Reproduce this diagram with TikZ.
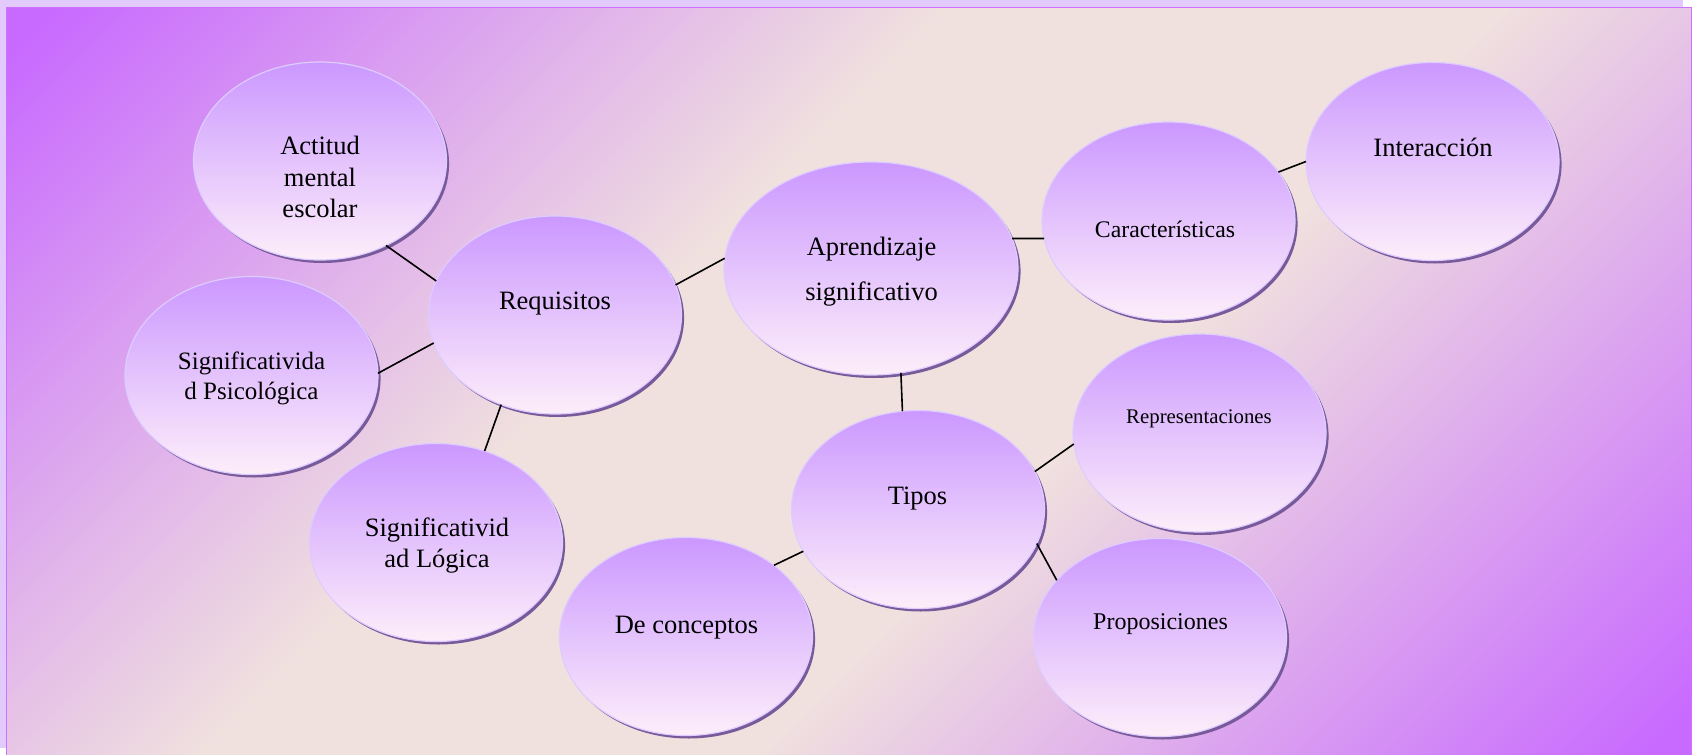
\documentclass[tikz,border=0pt]{standalone}
\usepackage{fontspec}
\setmainfont{Liberation Serif}
\usetikzlibrary{shapes.geometric, shadows}

\definecolor{bgpurple}{RGB}{200,106,255}
\definecolor{bgbeige}{RGB}{240,225,222}
\definecolor{framelilac}{RGB}{226,202,253}
\definecolor{frameline}{RGB}{208,112,255}
\definecolor{bubbletop}{RGB}{203,152,255}
\definecolor{bubblebot}{RGB}{253,238,250}
\definecolor{bubblerim}{RGB}{222,204,255}
\definecolor{bubbleshade}{RGB}{120,90,155}

\pgfdeclareverticalshading{backdrop}{100bp}{color(0bp)=(bgpurple); color(16bp)=(bgpurple); color(42bp)=(bgbeige); color(58bp)=(bgbeige); color(84bp)=(bgpurple); color(100bp)=(bgpurple)}

\begin{document}
\begin{tikzpicture}[x=0.5pt, y=-0.5pt,
    bubble/.style={ellipse, draw=bubblerim, line width=0.6pt, top color=bubbletop, bottom color=bubblebot,
        minimum width=126.5pt, minimum height=99pt, inner sep=0pt, outer sep=0pt,
        drop shadow={shadow xshift=1.3pt, shadow yshift=-1.5pt, fill=bubbleshade, opacity=1}},
    bigbubble/.style={bubble, minimum width=147pt, minimum height=106.5pt},
    txt/.style={align=center, inner sep=0pt, font=\fontsize{13.25}{16}\selectfont},
    link/.style={line width=0.8pt, black}]
    \useasboundingbox (0,0) rectangle (1693,755);

    %Background
    \fill[white] (0,0) rectangle (1693,755);
    \fill[framelilac] (0,0) rectangle (1683,7);
    \fill[framelilac] (0,0) rectangle (6,748);
    \shade[shading=backdrop, shading angle=45, draw=frameline, line width=0.8pt] (6.5,7.5) rectangle (1691.5,760);

    %Nodes
    \node[bubble] at (320, 161) (act) {};
    \node[bubble] at (555, 315) (req) {};
    \node[bubble] at (251.5, 375.5) (psi) {};
    \node[bubble] at (436, 542.5) (log) {};
    \node[bigbubble] at (871, 268.5) (apr) {};
    \node[bubble] at (1168.5, 221) (car) {};
    \node[bubble] at (1432.5, 161.5) (int) {};
    \node[bubble] at (918, 509.5) (tip) {};
    \node[bubble] at (1199.5, 433) (rep) {};
    \node[bubble] at (1160, 637.5) (pro) {};
    \node[bubble] at (686, 636.5) (con) {};

    %Texts
    \node[txt, font=\fontsize{13.25}{15.7}\selectfont] at (320, 177) (act-t) {Actitud\\mental\\escolar};
    \node[txt] at (555, 304) (req-t) {Requisitos};
    \node[txt, font=\fontsize{12.5}{15}\selectfont] at (251.5, 378) (psi-t) {Significativida\\d Psicológica};
    \node[txt, font=\fontsize{13.25}{15.5}\selectfont] at (437, 546) (log-t) {Significativid\\ad Lógica};
    \node[txt, font=\fontsize{13.25}{22.5}\selectfont] at (871.5, 272) (apr-t) {Aprendizaje\\significativo};
    \node[txt, font=\fontsize{11.9}{14}\selectfont] at (1165, 229) (car-t) {Características};
    \node[txt] at (1433, 147) (int-t) {Interacción};
    \node[txt] at (917.5, 498.5) (tip-t) {Tipos};
    \node[txt, font=\fontsize{10.4}{12}\selectfont] at (1199, 418.5) (rep-t) {Representaciones};
    \node[txt, font=\fontsize{12}{14}\selectfont] at (1160.5, 624) (pro-t) {Proposiciones};
    \node[txt] at (686.5, 627.5) (con-t) {De conceptos};

    %Lines
    \draw[link] (act.-52) -- (req.164);
    \draw[link] (psi.1) -- (req.193);
    \draw[link] (log.62) -- (req.239);
    \draw[link] (req.14) -- (apr.176);
    \draw[link] (apr.12) -- (car.188);
    \draw[link] (car.24) -- (int.180);
    \draw[link] (apr.-74) -- (tip.99);
    \draw[link] (tip.18) -- (rep.185);
    \draw[link] (tip.-16) -- (pro.151);
    \draw[link] (tip.200) -- (con.39);

\end{tikzpicture}
\end{document}
